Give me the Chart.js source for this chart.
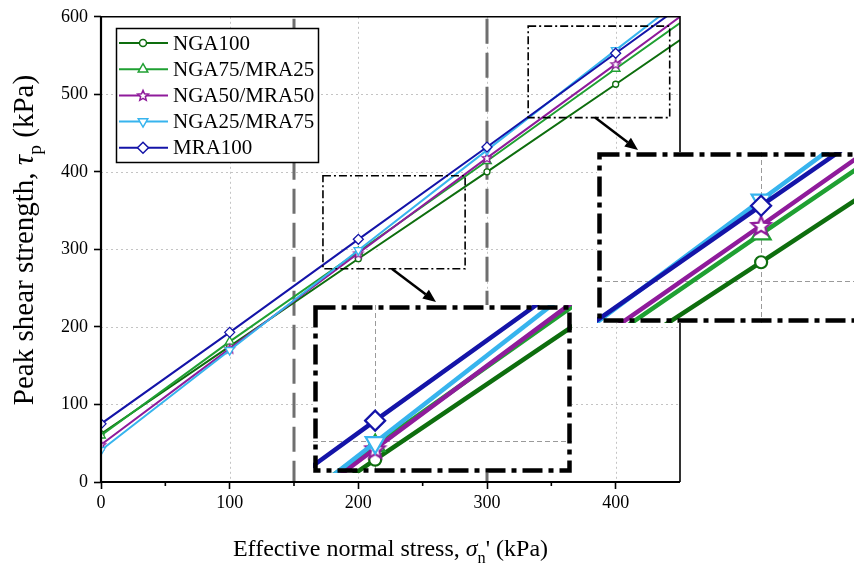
<!DOCTYPE html>
<html><head><meta charset="utf-8">
<script src="https://cdn.jsdelivr.net/npm/chart.js@4/dist/chart.umd.min.js"></script>
<style>
html,body{margin:0;padding:0;background:#fff;}
#wrap{position:relative;width:854px;height:564px;overflow:hidden;background:#fff;}
canvas{position:absolute;display:block;}
</style></head><body>
<div id="wrap">
<canvas id="main" width="854" height="564" style="left:0;top:0;width:854px;height:564px"></canvas>
<canvas id="in1"></canvas>
<canvas id="in2"></canvas>
</div>
<script>
// ---- data ----
const stress = [0, 100, 200, 300, 400, 450];
const seriesNames = ['NGA100', 'NGA75/MRA25', 'NGA50/MRA50', 'NGA25/MRA75', 'MRA100'];
const nga100 = [62, 175, 288, 400, 513, 570];
const nga75mra25 = [60, 181, 297, 414, 533, 592];
const nga50mra50 = [48, 172, 295, 418, 539, 600];
const nga25mra75 = [41, 170, 299, 428, 557, 621];
const mra100 = [75, 193, 313, 432, 553, 613];
const xTicks = [0, 100, 200, 300, 400];
const yTicks = [0, 100, 200, 300, 400, 500, 600];
const xMinorTicks = [50, 150, 250, 350];
const zoneLines = [150, 300];
const zoom1X = [333, 442], zoom1Y = [470, 591];
const zoom2X = [176, 276], zoom2Y = [279.5, 387];
const src1X = [332, 442], src1Y = [470, 588];
const src2X = [172.5, 283], src2Y = [275, 395];

// ---- styles ----
const FONT = '"Liberation Serif","Times New Roman",serif';
const colors = ['#0e6e0e', '#1fa032', '#8f1b9b', '#37b4ee', '#1414a8'];
const shapes = ['circle', 'triangle', 'star', 'triangleDown', 'diamond'];
const mainR = [3, 5, 5, 5, 5];
const insetR = [6, 11, 10, 11, 10];
const allSeries = [nga100, nga75mra25, nga50mra50, nga25mra75, mra100];

function starPath(ctx, x, y, r) {
  const ri = r * 0.45;
  ctx.beginPath();
  for (let i = 0; i < 10; i++) {
    const a = -Math.PI / 2 + i * Math.PI / 5;
    const rr = i % 2 ? ri : r;
    ctx.lineTo(x + rr * Math.cos(a), y + rr * Math.sin(a));
  }
  ctx.closePath();
}
function starCanvas(r, color, lw) {
  const s = Math.ceil(2 * r + lw + 2);
  const c = document.createElement('canvas');
  c.width = s; c.height = s;
  const g = c.getContext('2d');
  starPath(g, s / 2, s / 2 + r * 0.08, r);
  g.fillStyle = '#fff'; g.fill();
  g.lineWidth = lw; g.strokeStyle = color; g.lineJoin = 'miter'; g.stroke();
  return c;
}
function styleFor(i, r, lw) {
  const s = shapes[i];
  if (s === 'star') return { pointStyle: starCanvas(r, colors[i], lw), rotation: 0 };
  if (s === 'triangleDown') return { pointStyle: 'triangle', rotation: 180 };
  if (s === 'diamond') return { pointStyle: 'rectRot', rotation: 0 };
  return { pointStyle: s, rotation: 0 };
}
function buildDatasets(radii, lineW, ptW) {
  return seriesNames.map((name, i) => {
    const st = styleFor(i, radii[i], ptW);
    return {
      label: name,
      order: seriesNames.length - 1 - i,
      data: stress.map((x, k) => ({ x: x, y: allSeries[i][k] })),
      borderColor: colors[i],
      borderWidth: lineW,
      backgroundColor: '#fff',
      pointBackgroundColor: '#fff',
      pointBorderColor: colors[i],
      pointBorderWidth: ptW,
      pointStyle: st.pointStyle,
      pointRotation: st.rotation,
      pointRadius: stress.map((x) => (xTicks.includes(x) ? radii[i] : 0)),
      pointHoverRadius: 0,
      tension: 0,
      fill: false
    };
  });
}

function drawMarker(ctx, i, x, y, r) {
  ctx.save();
  ctx.fillStyle = '#fff'; ctx.strokeStyle = colors[i]; ctx.lineWidth = 1.5;
  ctx.beginPath();
  const s = shapes[i];
  if (s === 'circle') { ctx.arc(x, y, r, 0, Math.PI * 2); }
  else if (s === 'triangle') {
    ctx.moveTo(x, y - r); ctx.lineTo(x + r * 0.866, y + r * 0.5); ctx.lineTo(x - r * 0.866, y + r * 0.5); ctx.closePath();
  } else if (s === 'triangleDown') {
    ctx.moveTo(x, y + r); ctx.lineTo(x + r * 0.866, y - r * 0.5); ctx.lineTo(x - r * 0.866, y - r * 0.5); ctx.closePath();
  } else if (s === 'diamond') {
    ctx.moveTo(x, y - r); ctx.lineTo(x + r, y); ctx.lineTo(x, y + r); ctx.lineTo(x - r, y); ctx.closePath();
  } else { starPath(ctx, x, y + r * 0.08, r); }
  ctx.fill(); ctx.stroke();
  ctx.restore();
}

function drawRich(ctx, segs, cx, cy, size) {
  let total = 0;
  const ms = segs.map(sg => {
    const fs = sg.sub ? size * 0.68 : size;
    const f = (sg.it ? 'italic ' : '') + fs + 'px ' + FONT;
    ctx.font = f;
    const w = ctx.measureText(sg.t).width;
    total += w;
    return { f, w, sg };
  });
  let x = cx - total / 2;
  ctx.textBaseline = 'alphabetic';
  ctx.textAlign = 'left';
  ms.forEach(m => {
    ctx.font = m.f;
    ctx.fillText(m.sg.t, x, cy + (m.sg.sub ? size * 0.28 : 0));
    x += m.w;
  });
}

function arrow(ctx, x1, y1, x2, y2) {
  const a = Math.atan2(y2 - y1, x2 - x1);
  const hl = 13, hw = 5.5;
  const bx = x2 - hl * Math.cos(a), by = y2 - hl * Math.sin(a);
  ctx.save();
  ctx.strokeStyle = '#000'; ctx.fillStyle = '#000'; ctx.lineWidth = 2.5; ctx.setLineDash([]);
  ctx.beginPath(); ctx.moveTo(x1, y1); ctx.lineTo(bx, by); ctx.stroke();
  ctx.beginPath();
  ctx.moveTo(x2, y2);
  ctx.lineTo(bx + hw * Math.sin(a), by - hw * Math.cos(a));
  ctx.lineTo(bx - hw * Math.sin(a), by + hw * Math.cos(a));
  ctx.closePath(); ctx.fill();
  ctx.restore();
}

const mainDecor = {
  id: 'mainDecor',
  beforeDraw(chart) {
    const ctx = chart.ctx;
    ctx.save(); ctx.fillStyle = '#fff'; ctx.fillRect(0, 0, chart.width, chart.height); ctx.restore();
  },
  beforeDatasetsDraw(chart) {
    const { ctx, chartArea: ca, scales: { x, y } } = chart;
    ctx.save();
    ctx.strokeStyle = '#c4c4c4'; ctx.lineWidth = 1; ctx.setLineDash([2, 3]);
    xTicks.forEach(v => { if (v === 0) return; const px = Math.round(x.getPixelForValue(v)) + 0.5; ctx.beginPath(); ctx.moveTo(px, ca.top); ctx.lineTo(px, ca.bottom); ctx.stroke(); });
    yTicks.forEach(v => { if (v === 0 || v === 600) return; const py = Math.round(y.getPixelForValue(v)) + 0.5; ctx.beginPath(); ctx.moveTo(ca.left, py); ctx.lineTo(ca.right, py); ctx.stroke(); });
    ctx.strokeStyle = '#6f6f6f'; ctx.lineWidth = 3; ctx.setLineDash([25, 9]);
    zoneLines.forEach(v => { const px = x.getPixelForValue(v); ctx.beginPath(); ctx.moveTo(px, ca.top + 2); ctx.lineTo(px, ca.bottom); ctx.stroke(); });
    ctx.restore();
  },
  afterDatasetsDraw(chart) {
    const { ctx, scales: { x, y } } = chart;
    ctx.save();
    ctx.strokeStyle = '#000'; ctx.lineWidth = 1.6; ctx.setLineDash([8, 3, 2, 3]);
    [[src1X, src1Y], [src2X, src2Y]].forEach(([bx, by]) => {
      const l = x.getPixelForValue(bx[0]), r = x.getPixelForValue(bx[1]);
      const t = y.getPixelForValue(by[1]), b = y.getPixelForValue(by[0]);
      ctx.strokeRect(l, t, r - l, b - t);
    });
    ctx.restore();
    arrow(ctx, x.getPixelForValue(384), y.getPixelForValue(src1Y[0]), 638, 150);
    arrow(ctx, x.getPixelForValue(226), y.getPixelForValue(src2Y[0]), 436, 302);
  },
  afterDraw(chart) {
    const { ctx, chartArea: ca, scales: { x, y } } = chart;
    ctx.save();
    ctx.strokeStyle = '#000'; ctx.setLineDash([]);
    ctx.lineWidth = 1.6;
    ctx.beginPath(); ctx.moveTo(ca.left, ca.top); ctx.lineTo(ca.right, ca.top); ctx.lineTo(ca.right, ca.bottom); ctx.stroke();
    ctx.lineWidth = 2.2;
    ctx.beginPath(); ctx.moveTo(ca.left, ca.top); ctx.lineTo(ca.left, ca.bottom); ctx.lineTo(ca.right, ca.bottom); ctx.stroke();
    ctx.lineWidth = 1.6;
    xMinorTicks.forEach(v => { const px = x.getPixelForValue(v); ctx.beginPath(); ctx.moveTo(px, ca.bottom); ctx.lineTo(px, ca.bottom + 4); ctx.stroke(); });
    // legend
    const lx = 116, ly = 28, lw = 202, lh = 134;
    ctx.fillStyle = '#fff'; ctx.fillRect(lx, ly, lw, lh);
    ctx.lineWidth = 1.5; ctx.strokeRect(lx + 0.5, ly + 0.5, lw, lh);
    seriesNames.forEach((n, i) => {
      const cy = 43 + i * 26.2;
      ctx.strokeStyle = colors[i]; ctx.lineWidth = 2;
      ctx.beginPath(); ctx.moveTo(119, cy); ctx.lineTo(168, cy); ctx.stroke();
      drawMarker(ctx, i, 143, cy, i === 0 ? 3.5 : 5.5);
      ctx.fillStyle = '#000'; ctx.font = '21px ' + FONT; ctx.textBaseline = 'middle'; ctx.textAlign = 'left';
      ctx.fillText(n, 173, cy + 1);
    });
    // axis titles
    ctx.fillStyle = '#000';
    drawRich(ctx, [{ t: 'Effective normal stress, ' }, { t: 'σ', it: true }, { t: 'n', sub: true }, { t: "' (kPa)" }], (ca.left + ca.right) / 2, 556, 24);
    ctx.save();
    ctx.translate(33, 240);
    ctx.rotate(-Math.PI / 2);
    drawRich(ctx, [{ t: 'Peak shear strength, ' }, { t: 'τ', it: true }, { t: 'p', sub: true }, { t: ' (kPa)' }], 0, 0, 29);
    ctx.restore();
    ctx.restore();
  }
};

new Chart(document.getElementById('main'), {
  type: 'line',
  data: { datasets: buildDatasets(mainR, 2, 1.3) },
  plugins: [mainDecor],
  options: {
    responsive: false, animation: false, devicePixelRatio: 1,
    layout: { autoPadding: false, padding: { left: 0, top: 16, right: 174, bottom: 0 } },
    plugins: { legend: { display: false }, tooltip: { enabled: false } },
    events: [],
    scales: {
      x: {
        type: 'linear', min: 0, max: 450,
        afterBuildTicks: s => { s.ticks = xTicks.map(v => ({ value: v })); },
        afterFit: s => { s.height = 82; },
        grid: { drawOnChartArea: false, drawTicks: true, tickLength: 7, tickColor: '#000', tickWidth: 1.6, color: '#000', tickBorderDash: [] },
        border: { display: false },
        ticks: { color: '#000', font: { family: FONT, size: 18 }, padding: 3, maxRotation: 0, autoSkip: false }
      },
      y: {
        type: 'linear', min: 0, max: 600,
        afterBuildTicks: s => { s.ticks = yTicks.map(v => ({ value: v })); },
        afterFit: s => { s.width = 101; },
        grid: { drawOnChartArea: false, drawTicks: true, tickLength: 7, tickColor: '#000', tickWidth: 1.6, color: '#000', tickBorderDash: [] },
        border: { display: false },
        ticks: { color: '#000', font: { family: FONT, size: 18 }, padding: 6, autoSkip: false }
      }
    }
  }
});

function makeInset(id, left, top, w, h, xr, yr, gx, gy) {
  const cv = document.getElementById(id);
  cv.width = w; cv.height = h;
  cv.style.left = left + 'px'; cv.style.top = top + 'px';
  cv.style.width = w + 'px'; cv.style.height = h + 'px';
  const decor = {
    id: 'insetDecor' + id,
    beforeDraw(chart) {
      const { ctx, scales: { x, y } } = chart;
      ctx.save();
      ctx.fillStyle = '#fff'; ctx.fillRect(0, 0, chart.width, chart.height);
      ctx.strokeStyle = '#9a9a9a'; ctx.lineWidth = 1; ctx.setLineDash([5, 3]);
      const px = Math.round(x.getPixelForValue(gx)) + 0.5, py = Math.round(y.getPixelForValue(gy)) + 0.5;
      ctx.beginPath(); ctx.moveTo(px, 0); ctx.lineTo(px, chart.height); ctx.stroke();
      ctx.beginPath(); ctx.moveTo(0, py); ctx.lineTo(chart.width, py); ctx.stroke();
      ctx.restore();
    },
    afterDraw(chart) {
      const ctx = chart.ctx;
      ctx.save();
      ctx.strokeStyle = '#000'; ctx.lineWidth = 4.5; ctx.setLineDash([20, 6, 5, 6]);
      ctx.strokeRect(2.5, 2.5, chart.width - 5, chart.height - 5);
      ctx.restore();
    }
  };
  new Chart(cv, {
    type: 'line',
    data: { datasets: buildDatasets(insetR, 4.5, 2.2) },
    plugins: [decor],
    options: {
      responsive: false, animation: false, devicePixelRatio: 1, events: [],
      layout: { autoPadding: false, padding: 0 },
      plugins: { legend: { display: false }, tooltip: { enabled: false } },
      scales: {
        x: { type: 'linear', display: false, min: xr[0], max: xr[1] },
        y: { type: 'linear', display: false, min: yr[0], max: yr[1] }
      }
    }
  });
}
makeInset('in1', 597, 152, 267, 171, zoom1X, zoom1Y, 400, 500);
makeInset('in2', 313, 305, 259, 168, zoom2X, zoom2Y, 200, 300);
</script>
</body></html>
